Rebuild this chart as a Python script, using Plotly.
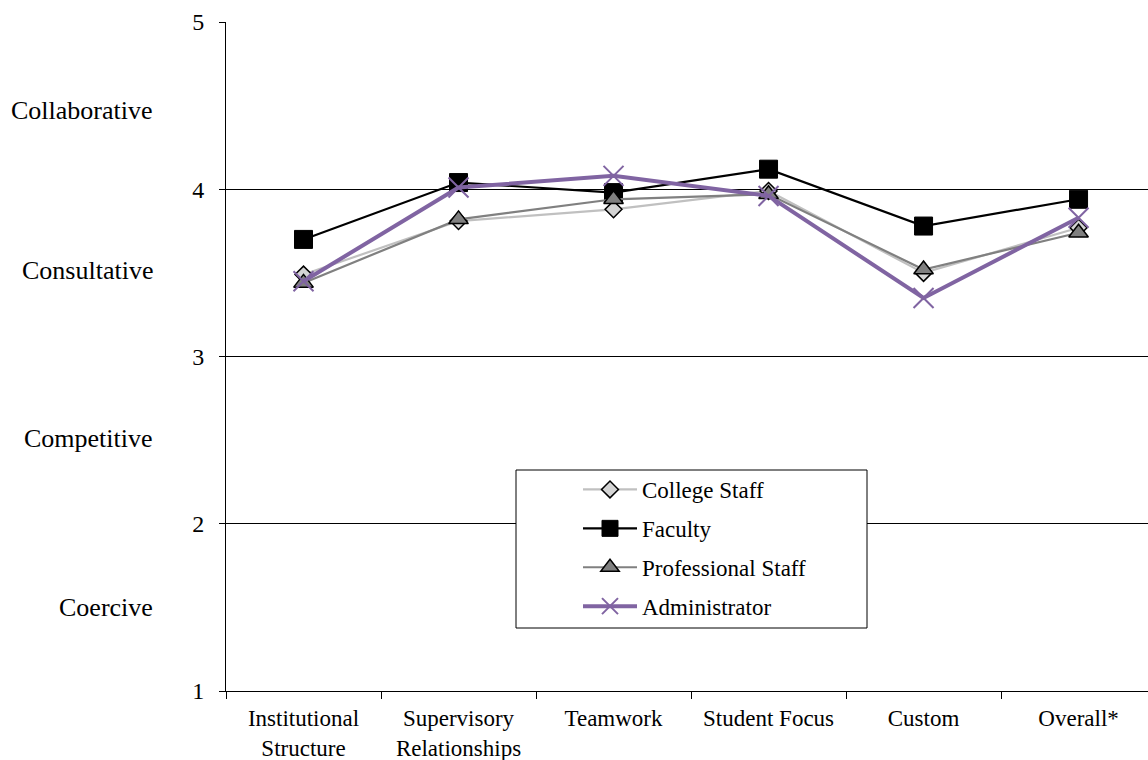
import plotly.graph_objects as go

# Survey dimensions along the x axis
categories = ["Institutional<br>Structure", "Supervisory<br>Relationships", "Teamwork",
              "Student Focus", "Custom", "Overall*"]

# Mean ratings per respondent group (1 = Coercive ... 5 = Collaborative scale)
college_staff = [3.49, 3.81, 3.88, 3.99, 3.50, 3.77]
faculty = [3.70, 4.04, 3.98, 4.12, 3.78, 3.94]
professional_staff = [3.44, 3.82, 3.94, 3.97, 3.52, 3.74]
administrator = [3.45, 4.01, 4.08, 3.96, 3.35, 3.83]

# Culture bands written beside the value axis
band_labels = ["Collaborative", "Consultative", "Competitive", "Coercive"]
band_centers = [4.5, 3.5, 2.5, 1.5]

y_ticks = [1, 2, 3, 4, 5]

FONT = "Liberation Serif"

fig = go.Figure()

fig.add_trace(go.Scatter(
    x=categories, y=college_staff, name="College Staff", mode="lines+markers",
    line=dict(color="#C0C0C0", width=2.2),
    marker=dict(symbol="diamond", size=13, color="#D4D4D4",
                line=dict(color="black", width=1.5)),
    legendgroup="a",
))
fig.add_trace(go.Scatter(
    x=categories, y=faculty, name="Faculty", mode="lines+markers",
    line=dict(color="black", width=2.2),
    marker=dict(symbol="square", size=18, color="black",
                line=dict(color="black", width=1)),
    legendgroup="b",
))
fig.add_trace(go.Scatter(
    x=categories, y=professional_staff, name="Professional Staff", mode="lines+markers",
    line=dict(color="#808080", width=2.2),
    marker=dict(symbol="triangle-up", size=17, color="#808080",
                line=dict(color="black", width=1.5)),
    legendgroup="c",
))
fig.add_trace(go.Scatter(
    x=categories, y=administrator, name="Administrator", mode="lines+markers",
    line=dict(color="#8064A2", width=4),
    marker=dict(symbol="x-thin", size=20, color="#8064A2",
                line=dict(color="#8064A2", width=2)),
    legendgroup="d",
))

# Band names on the left of the value axis (small vertical nudges per label)
band_shift = [-5, 2, 2, 0]
for txt, yc, dy in zip(band_labels, band_centers, band_shift):
    fig.add_annotation(
        x=0, xref="paper", y=yc, yref="y", text=txt, showarrow=False,
        xanchor="right", yanchor="middle", xshift=-71, yshift=dy,
        font=dict(family=FONT, size=26, color="black"),
    )

# Legend frame
fig.add_shape(
    type="rect", xref="paper", yref="paper",
    x0=(516 - 226) / 922, x1=(867 - 226) / 922,
    y0=(691 - 628) / 669, y1=(691 - 470) / 669,
    line=dict(color="black", width=1), fillcolor="white", layer="above",
)

fig.update_layout(
    width=1148, height=760,
    margin=dict(l=226, r=0, t=22, b=69),
    paper_bgcolor="white", plot_bgcolor="white",
    font=dict(family=FONT, size=23, color="black"),
    showlegend=True,
    legend=dict(
        x=(578 - 226) / 922, y=(691 - 468) / 669, xanchor="left", yanchor="top",
        bgcolor="rgba(0,0,0,0)", borderwidth=0,
        font=dict(family=FONT, size=23, color="black"),
        tracegroupgap=6, itemwidth=54,
    ),
    xaxis=dict(
        type="category", range=[-0.5, 5.448],
        showgrid=False, showline=True, linecolor="black", linewidth=1,
        ticks="outside", ticklen=7, tickcolor="black", tickson="boundaries",
        ticklabelstandoff=6,
        tickfont=dict(family=FONT, size=23, color="black"),
        fixedrange=True,
    ),
    yaxis=dict(
        range=[1, 5], tickvals=y_ticks,
        showgrid=True, gridcolor="black", gridwidth=1,
        showline=True, linecolor="black", linewidth=1,
        ticks="outside", ticklen=6, tickcolor="black",
        ticklabelstandoff=10,
        tickfont=dict(family=FONT, size=24, color="black"),
        zeroline=False, fixedrange=True,
    ),
)

fig.write_html("out.html")
